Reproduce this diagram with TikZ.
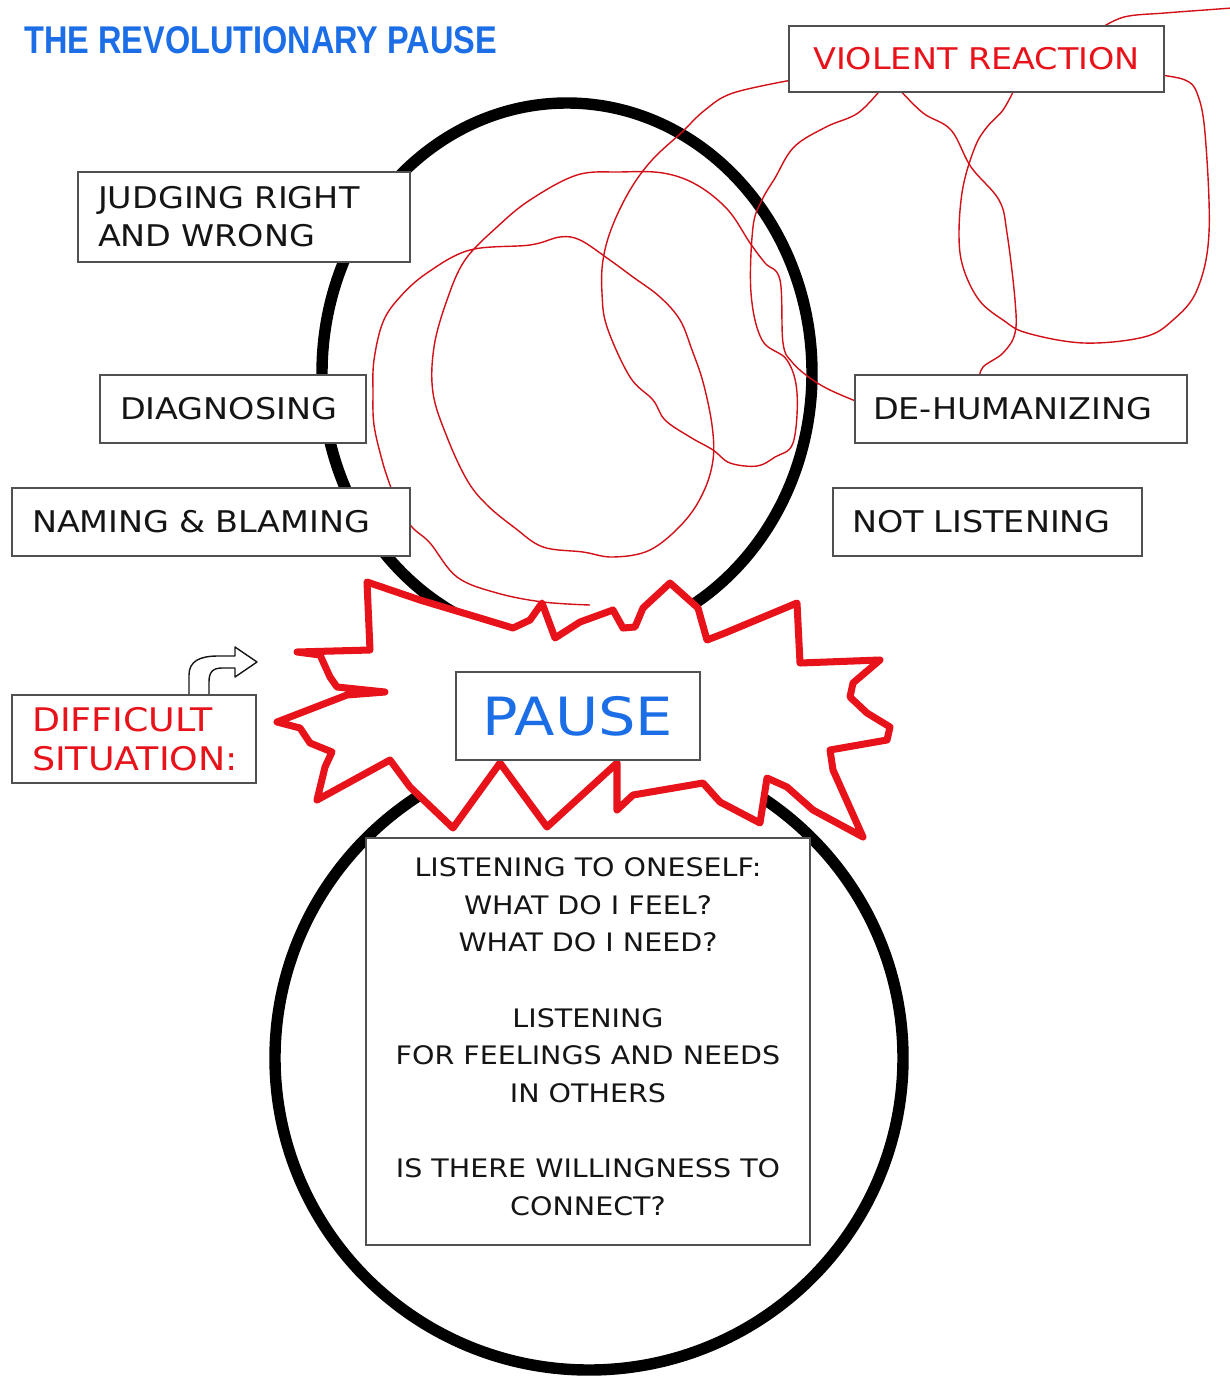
\documentclass[tikz,border=0pt]{standalone}
\usepackage{fontspec}
\setmainfont{DejaVu Sans}
\newfontfamily\handfont[FakeStretch=1.12]{DejaVu Sans}
\newfontfamily\titlefont[FakeStretch=0.84]{Liberation Sans}
\definecolor{rpblue}{HTML}{1C6EE6}
\definecolor{rpred}{HTML}{E8121A}
\definecolor{rpgray}{HTML}{505050}
\definecolor{rpink}{HTML}{151515}

\begin{document}
\begin{tikzpicture}[
    x=0.02cm, y=-0.02cm,
    ring/.style={draw=black, line width=6.5pt},
    scribble/.style={draw=rpred!90!black, line width=0.8pt, line join=round},
    burst/.style={draw=rpred, fill=white, line width=4pt, line join=round},
    box/.style={draw=rpgray, fill=white, line width=0.9pt, text=rpink,
                font=\handfont\fontsize{17}{21.5}\selectfont},
    lbox/.style={box, align=left, inner xsep=0.4cm, minimum height=1.36cm},
    title/.style={text=rpblue, inner sep=0pt,
                  font=\titlefont\bfseries\fontsize{22}{26}\selectfont},
  ]
  \useasboundingbox (0,0) rectangle (1230,1380);

  % ---- the two rings ----
  \draw[ring] (567,373) ellipse [x radius=245, y radius=270];
  \draw[ring] (589,1058) ellipse [x radius=314, y radius=312];

  % ---- red scribbles ----
  \draw[scribble] plot[smooth, tension=0.6] coordinates {
    (590,605) (543,602) (497,593) (457,577) (430,543) (412,527) (398,505)
    (390,485) (382,460) (374,425) (373,393) (374,360) (383,322) (400,297)
    (427,273) (470,250) (530,245) (560,237) (580,240) (607,258) (633,277)
    (660,297) (680,320) (692,350) (703,382) (712,425) (713,460) (703,493)
    (683,523) (650,550) (613,557) (583,552) (543,547) (515,528) (487,505)
    (467,480) (447,437) (433,393) (434,347) (447,300) (465,260) (497,227)
    (530,200) (577,175) (620,172) (663,173) (697,185) (728,210) (750,243)
    (765,263) (780,280) (783,343) (792,362) (810,378) (830,390) (858,402)};
  \draw[scribble] plot[smooth, tension=0.6] coordinates {
    (792,80) (733,93) (705,110) (681,133) (652,160) (630,190) (612,227)
    (603,260) (602,293) (607,327) (630,377) (653,400) (665,420) (690,437)
    (713,450) (730,463) (757,466) (775,457) (793,443) (797,393) (787,360)
    (762,340) (751,293) (753,227) (762,200) (775,178) (794,147) (826,127)
    (858,113) (882,88)};
  \draw[scribble] plot[smooth, tension=0.6] coordinates {
    (898,88) (923,113) (951,130) (971,167) (999,200) (1007,233) (1015,300)
    (1015,333) (1003,353) (983,367) (979,380)};
  \draw[scribble] plot[smooth, tension=0.6] coordinates {
    (1015,88) (1003,110) (987,127) (975,147) (963,187) (959,233) (963,267)
    (979,300) (1003,320) (1027,333) (1084,343) (1144,337) (1173,320)
    (1197,290) (1209,233) (1205,133) (1197,93) (1185,80) (1160,75)};
  \draw[scribble] plot[smooth, tension=0.6] coordinates {
    (1098,30) (1124,17) (1165,13) (1205,10) (1232,8)};

  % ---- the burst round the pause ----
  \draw[burst] (367,582) -- (420,600) -- (470,615) -- (513,628) -- (530,620)
    -- (542,603) -- (555,638) -- (580,622) -- (613,610) -- (623,628)
    -- (635,627) -- (643,608) -- (670,583) -- (698,608) -- (707,640)
    -- (725,633) -- (797,603) -- (800,663) -- (880,660) -- (853,683)
    -- (850,697) -- (867,713) -- (890,727) -- (887,740) -- (830,750)
    -- (833,770) -- (863,837) -- (813,810) -- (787,787) -- (767,778)
    -- (760,823) -- (720,802) -- (703,783) -- (633,795) -- (617,810)
    -- (617,763) -- (547,827) -- (500,763) -- (453,828) -- (410,787)
    -- (390,760) -- (317,800) -- (325,767) -- (332,752) -- (310,743)
    -- (300,728) -- (277,722) -- (290,717) -- (347,695) -- (385,692)
    -- (337,687) -- (330,677) -- (320,655) -- (297,652) -- (370,650) -- cycle;

  % ---- labels ----
  \node[title, anchor=west] (title) at (24,40) {THE REVOLUTIONARY PAUSE};

  \node[lbox, text width=5.84cm, minimum height=1.8cm] (judge) at (244,217)
    {JUDGING RIGHT\\AND WRONG};
  \node[lbox, text width=4.52cm] (diag) at (233,409) {DIAGNOSING};
  \node[lbox, text width=7.16cm] (naming) at (211,522) {NAMING \& BLAMING};
  \node[box, text=rpred, minimum width=7.5cm, minimum height=1.32cm]
    (violent) at (976.5,59) {VIOLENT REACTION};
  \node[lbox, text width=5.92cm, inner xsep=0.36cm] (dehum) at (1021,409)
    {DE-HUMANIZING};
  \node[lbox, text width=5.42cm, inner xsep=0.38cm] (notlisten) at (987.5,522)
    {NOT LISTENING};
  \node[lbox, text=rpred, text width=4.08cm, minimum height=1.76cm,
        font=\handfont\fontsize{18.5}{22}\selectfont] (diff) at (134,739)
    {DIFFICULT\\SITUATION:};
  \node[box, text=rpblue, minimum width=4.88cm, minimum height=1.76cm,
        font=\handfont\fontsize{30}{34}\selectfont] (pause) at (578,716) {PAUSE};
  \node[box, align=center, minimum width=8.88cm, minimum height=8.14cm,
        text depth=0.2cm, font=\handfont\fontsize{14.5}{21.4}\selectfont]
    (listen) at (588,1041.5)
    {LISTENING TO ONESELF:\\WHAT DO I FEEL?\\WHAT DO I NEED?\\[21.4pt]
     LISTENING\\FOR FEELINGS AND NEEDS\\IN OTHERS\\[21.4pt]
     IS THERE WILLINGNESS TO\\CONNECT?};

  % ---- bent arrow on the situation box ----
  \draw[rpink, line width=0.8pt, line join=round]
    (189,694) -- (189,675) .. controls (189,661) and (200,656) .. (218,656)
    -- (235,656) -- (235,647) -- (257,662) -- (235,677) -- (235,668)
    -- (222,668) .. controls (212,668) and (209,673) .. (209,682) -- (209,694);
\end{tikzpicture}
\end{document}
